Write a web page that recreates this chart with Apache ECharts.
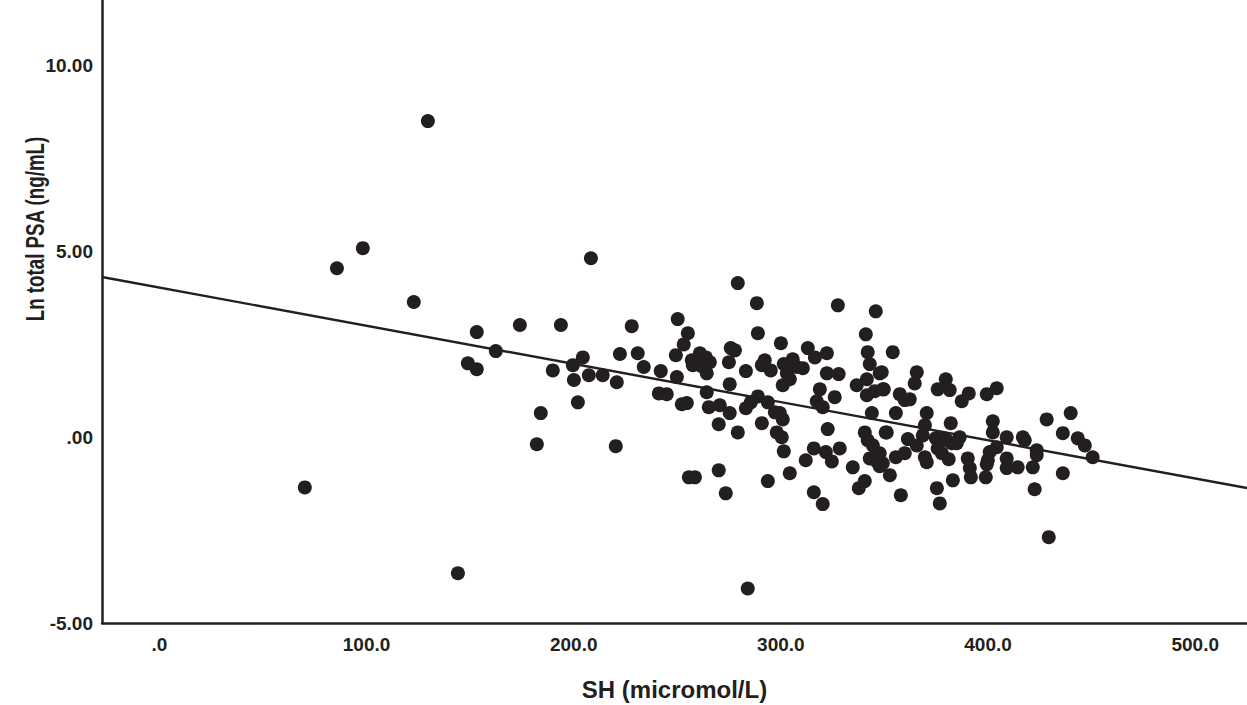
<!DOCTYPE html>
<html>
<head>
<meta charset="utf-8">
<script src="https://cdn.jsdelivr.net/npm/echarts@6/dist/echarts.min.js"></script>
<style>
html,body{margin:0;padding:0;background:#fff;}
#chart{width:1247px;height:705px;}
</style>
</head>
<body>
<div id="chart"></div>
<script>
// SH (micromol/L) values
const shValues = [129.6,70.2,85.7,98.2,122.8,144.1,208.3,284.0,429.3,279.2,
288.4,327.5,345.8,153.2,174.0,193.8,228.0,162.4,148.9,153.2,
189.9,204.4,199.6,200.1,207.3,214.0,220.8,222.3,230.9,233.8,
242.0,241.1,244.9,202.0,184.1,182.2,220.3,249.8,250.2,255.1,
253.1,249.3,257.0,260.9,263.8,265.7,257.5,261.8,264.2,275.8,
277.8,274.9,283.1,288.9,300.0,292.2,290.8,295.1,301.4,305.7,
307.7,310.6,302.9,304.3,300.9,313.0,316.4,322.2,322.2,327.9,
318.8,326.0,341.0,341.9,342.9,347.7,354.0,336.6,341.5,341.5,
345.3,349.2,275.3,264.2,252.2,254.6,265.2,270.5,275.3,283.1,
285.5,288.9,293.7,297.1,299.5,300.9,317.3,320.2,343.9,270.0,
279.2,290.8,298.0,300.4,301.4,322.6,315.9,321.7,324.6,328.4,
312.0,334.7,340.5,341.9,344.4,342.9,346.3,347.7,350.6,304.3,
293.7,315.9,320.2,340.5,337.6,255.6,258.5,270.0,273.4,348.7,
365.6,364.6,349.7,357.4,359.8,362.2,379.6,375.7,381.5,390.7,
387.3,399.4,404.2,355.5,370.4,382.0,369.5,368.5,402.3,402.3,
428.3,439.9,436.1,409.0,416.8,417.7,443.3,446.7,450.5,351.1,
361.3,365.6,374.8,377.7,375.7,380.1,382.5,386.3,384.9,377.7,
423.5,423.5,404.2,400.8,399.9,399.4,347.7,349.2,355.5,359.8,
369.5,370.4,381.0,390.2,391.2,391.7,398.9,409.0,409.0,414.3,
421.6,436.1,422.5,383.0,375.3,376.7,357.9,352.6];

// Ln total PSA (ng/mL) values
const lnPsaValues = [8.51,-1.35,4.55,5.09,3.64,-3.66,4.82,-4.07,-2.69,4.15,
3.61,3.55,3.39,2.83,3.02,3.02,2.99,2.32,1.99,1.83,
1.80,2.15,1.94,1.54,1.67,1.67,1.48,2.24,2.26,1.89,
1.78,1.18,1.16,0.94,0.65,-0.19,-0.24,1.62,3.18,2.80,
2.50,2.21,2.07,2.26,2.15,2.02,1.94,1.91,1.72,2.40,
2.34,2.02,1.78,2.80,2.53,2.07,1.94,1.80,1.97,2.10,
1.89,1.86,1.72,1.56,1.40,2.40,2.15,2.26,1.72,1.70,
1.29,1.08,2.77,2.29,1.97,1.72,2.29,1.40,1.56,1.13,
1.24,1.29,1.43,1.21,0.89,0.92,0.81,0.86,0.65,0.78,
0.94,1.10,0.94,0.67,0.65,0.48,0.97,0.81,0.65,0.35,
0.13,0.38,0.13,0.00,-0.38,0.22,-0.30,-0.40,-0.65,-0.30,
-0.62,-0.81,0.13,-0.08,-0.22,-0.57,-0.65,-0.78,0.13,-0.97,
-1.18,-1.48,-1.80,-1.18,-1.37,-1.08,-1.08,-0.89,-1.51,1.75,
1.75,1.45,1.29,1.16,1.00,1.02,1.56,1.29,1.27,1.18,
0.97,1.16,1.32,0.65,0.65,0.38,0.32,0.05,0.43,0.13,
0.48,0.65,0.11,0.00,0.00,-0.08,-0.03,-0.22,-0.54,0.13,
-0.05,-0.22,-0.03,-0.05,-0.30,-0.08,-0.16,0.00,-0.16,-0.43,
-0.35,-0.48,-0.27,-0.40,-0.62,-0.73,-0.43,-0.70,-0.54,-0.43,
-0.54,-0.67,-0.59,-0.57,-0.83,-1.08,-1.08,-0.57,-0.83,-0.81,
-0.81,-0.97,-1.40,-1.16,-1.37,-1.78,-1.56,-1.02];

// Fit line (linear regression) parameters
const fitIntercept = 4.03;
const fitSlope = -0.01028;

// Axis extents and tick labels
const xRange = [-27.7, 525];
const yRange = [-5, 11.77];
const xTickValues = [0, 100, 200, 300, 400, 500];
const xTickLabels = ['.0', '100.0', '200.0', '300.0', '400.0', '500.0'];
const yTickValues = [-5, 0, 5, 10];
const yTickLabels = ['-5.00', '.00', '5.00', '10.00'];

const xTitle = 'SH (micromol/L)';
const yTitle = 'Ln total PSA (ng/mL)';

const ink = '#231f20';
const fontFamily = '"Liberation Sans", Arial, Helvetica, sans-serif';

const points = shValues.map((x, i) => [x, lnPsaValues[i]]);
const fitLine = xRange.map(x => [x, fitIntercept + fitSlope * x]);

const chart = echarts.init(document.getElementById('chart'), null, {renderer: 'svg'});
chart.setOption({
  animation: false,
  backgroundColor: '#ffffff',
  textStyle: {fontFamily: fontFamily},
  grid: {left: 102, right: 0, top: 0, bottom: 82, containLabel: false, outerBoundsMode: 'none'},
  graphic: [{
    type: 'text',
    x: 36,
    y: 229,
    rotation: Math.PI / 2,
    scaleX: 0.75,
    style: {
      text: yTitle,
      fill: ink,
      font: 'bold 25px ' + fontFamily,
      align: 'center',
      verticalAlign: 'middle'
    }
  }],
  xAxis: {
    type: 'value',
    min: xRange[0],
    max: xRange[1],
    name: xTitle,
    nameLocation: 'middle',
    nameGap: 54,
    nameTextStyle: {color: ink, fontSize: 24, fontFamily: fontFamily, fontWeight: 'bold'},
    axisLine: {show: true, onZero: false, lineStyle: {color: ink, width: 2.5}},
    axisTick: {show: false},
    splitLine: {show: false},
    axisLabel: {
      customValues: xTickValues,
      formatter: v => xTickLabels[xTickValues.indexOf(Math.round(v))] || '',
      color: ink, fontSize: 19, fontWeight: 'bold', margin: 12, fontFamily: fontFamily
    }
  },
  yAxis: {
    type: 'value',
    min: yRange[0],
    max: yRange[1],
    axisLine: {show: true, onZero: false, lineStyle: {color: ink, width: 2.5}},
    axisTick: {show: false},
    splitLine: {show: false},
    axisLabel: {
      customValues: yTickValues,
      formatter: v => yTickLabels[yTickValues.indexOf(Math.round(v))] || '',
      color: ink, fontSize: 19, fontWeight: 'bold', margin: 9, fontFamily: fontFamily
    }
  },
  series: [
    {
      type: 'scatter',
      data: points,
      symbol: 'circle',
      symbolSize: 14,
      itemStyle: {color: ink, opacity: 1},
      z: 2
    },
    {
      type: 'line',
      data: fitLine,
      symbol: 'none',
      lineStyle: {color: ink, width: 2.4},
      clip: true,
      z: 3
    }
  ]
});
</script>
</body>
</html>
